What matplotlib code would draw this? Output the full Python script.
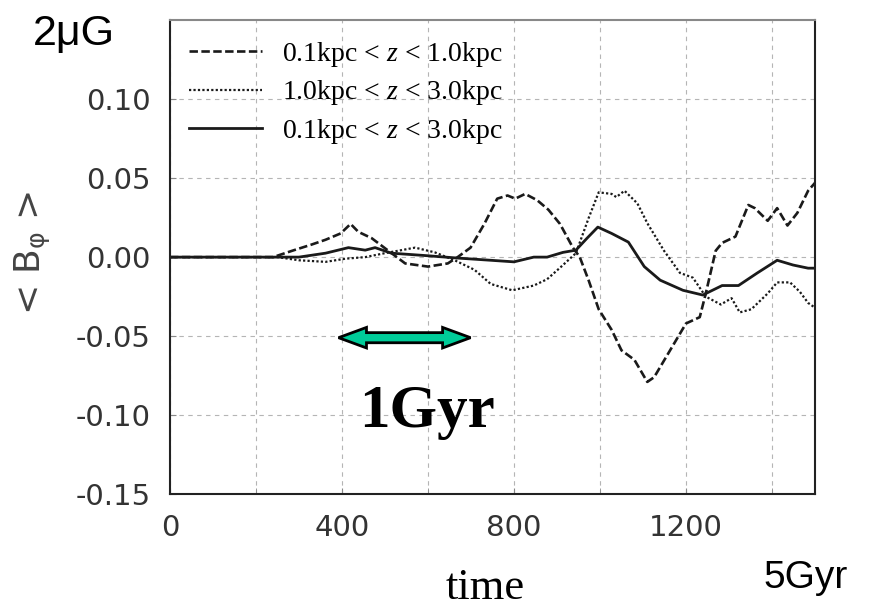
import numpy as np
import matplotlib.pyplot as plt
from matplotlib.patches import Polygon
from matplotlib.ticker import MultipleLocator

# time (simulation units) and <B_phi> for the three height ranges
t_a = [0, 240, 284, 330, 362, 397, 420, 438, 469, 508, 547, 600, 646, 669, 699, 731, 761, 785,
       803, 826, 854, 880, 907, 937, 953, 974, 997, 1027, 1050, 1080, 1110, 1126, 1163, 1200,
       1232, 1246, 1269, 1284, 1315, 1345, 1360, 1390, 1412, 1436, 1459, 1484, 1500]
b_a = [0, 0, 0.004, 0.008, 0.011, 0.015, 0.021, 0.016, 0.012, 0.004, -0.004, -0.006, -0.004, 0,
       0.006, 0.021, 0.037, 0.039, 0.037, 0.040, 0.036, 0.030, 0.021, 0.006, 0, -0.015, -0.033,
       -0.046, -0.059, -0.065, -0.079, -0.076, -0.059, -0.042, -0.038, -0.023, 0.004, 0.009,
       0.013, 0.033, 0.031, 0.023, 0.031, 0.020, 0.028, 0.042, 0.047]

t_b = [0, 250, 300, 362, 408, 454, 500, 570, 616, 662, 708, 746, 796, 846, 877, 910, 944, 974,
       997, 1027, 1038, 1057, 1087, 1110, 1149, 1186, 1216, 1246, 1281, 1306, 1325, 1352, 1390,
       1412, 1442, 1465, 1484, 1500]
b_b = [0, 0, -0.002, -0.003, -0.001, 0, 0.0025, 0.006, 0.003, -0.002, -0.008, -0.017, -0.021,
       -0.018, -0.014, -0.006, 0.0025, 0.025, 0.041, 0.040, 0.038, 0.042, 0.034, 0.0215, 0.004,
       -0.010, -0.013, -0.025, -0.030, -0.026, -0.035, -0.033, -0.023, -0.016, -0.016, -0.022,
       -0.029, -0.032]

t_c = [0, 300, 362, 415, 454, 477, 515, 593, 669, 746, 800, 846, 877, 914, 944, 970, 995, 1027,
       1066, 1103, 1140, 1193, 1239, 1284, 1322, 1366, 1412, 1449, 1484, 1500]
b_c = [0, 0, 0.0025, 0.006, 0.0044, 0.006, 0.0025, 0.001, -0.0006, -0.002, -0.003, 0, 0, 0.003,
       0.0044, 0.012, 0.019, 0.015, 0.0095, -0.006, -0.0146, -0.021, -0.024, -0.018, -0.018,
       -0.010, -0.002, -0.005, -0.007, -0.007]

labels = ['0.1kpc < $z$ < 1.0kpc', '1.0kpc < $z$ < 3.0kpc', '0.1kpc < $z$ < 3.0kpc']
y_ticks = [-0.15, -0.10, -0.05, 0.00, 0.05, 0.10]
arrow_t = [392, 699]
arrow_b = -0.051

plt.rcParams['mathtext.fontset'] = 'custom'
plt.rcParams['mathtext.it'] = 'Liberation Serif:italic'
plt.rcParams['mathtext.rm'] = 'Liberation Serif'
plt.rcParams['mathtext.sf'] = 'DejaVu Sans'

fig = plt.figure(figsize=(8.77, 6.10), dpi=100)
ax = fig.add_axes([0.1938, 0.190, 0.7355, 0.777])

ax.plot(t_a, b_a, color='#1a1a1a', lw=1.9, ls=(0, (3.2, 1.3)), label=labels[0])
ax.plot(t_b, b_b, color='#1a1a1a', lw=1.6, ls=(0, (1, 1)), label=labels[1])
ax.plot(t_c, b_c, color='#1a1a1a', lw=2.0, ls='-', label=labels[2])

ax.set_xlim(0, 1500)
ax.set_ylim(-0.15, 0.15)
ax.xaxis.set_major_locator(MultipleLocator(400))
ax.xaxis.set_minor_locator(MultipleLocator(200))
ax.set_yticks(y_ticks)
ax.set_yticklabels([f'{v:.2f}' for v in y_ticks])
ax.grid(True, which='both', color='#b5b5b5', lw=0.8, ls=(0, (4, 4)))
ax.tick_params(which='both', direction='in', length=4, color='#888888',
               labelsize=21, labelcolor='#333333', pad=14)
for s in ax.spines.values():
    s.set_linewidth(1.5)
    s.set_color('#222222')
ax.spines['top'].set_color('#888888')

leg = ax.legend(loc='upper left', frameon=False, handlelength=2.6, handletextpad=0.75,
                borderaxespad=0.3, labelspacing=0.35,
                prop={'family': 'Liberation Serif', 'size': 20})

# teal double-headed arrow marking 1 Gyr
x0, x1 = arrow_t
hl = 65.0
hw, sw = 0.0065, 0.0032
pts = [(x0, arrow_b), (x0 + hl, arrow_b + hw), (x0 + hl, arrow_b + sw), (x1 - hl, arrow_b + sw),
       (x1 - hl, arrow_b + hw), (x1, arrow_b), (x1 - hl, arrow_b - hw), (x1 - hl, arrow_b - sw),
       (x0 + hl, arrow_b - sw), (x0 + hl, arrow_b - hw)]
ax.add_patch(Polygon(pts, closed=True, facecolor='#00cc99', edgecolor='black', lw=2, zorder=5))

ax.text(597, -0.098, '1Gyr', family='Liberation Serif', weight='bold', size=44,
        ha='center', va='center')

fig.text(0.084, 0.945, '2\u03bcG', family='Liberation Sans', size=31, ha='center', va='center')
fig.text(0.553, 0.018, 'time', family='Liberation Serif', size=32, ha='center', va='baseline')
fig.text(0.919, 0.052, '5Gyr', family='Liberation Sans', size=28, ha='center', va='center')
fig.text(0.038, 0.585, '< B$_{\\mathsf{\u03c6}}$ >', family='DejaVu Sans', size=26,
         color='#444444', rotation=90, ha='center', va='center')

fig.savefig('out.png', dpi=100)
